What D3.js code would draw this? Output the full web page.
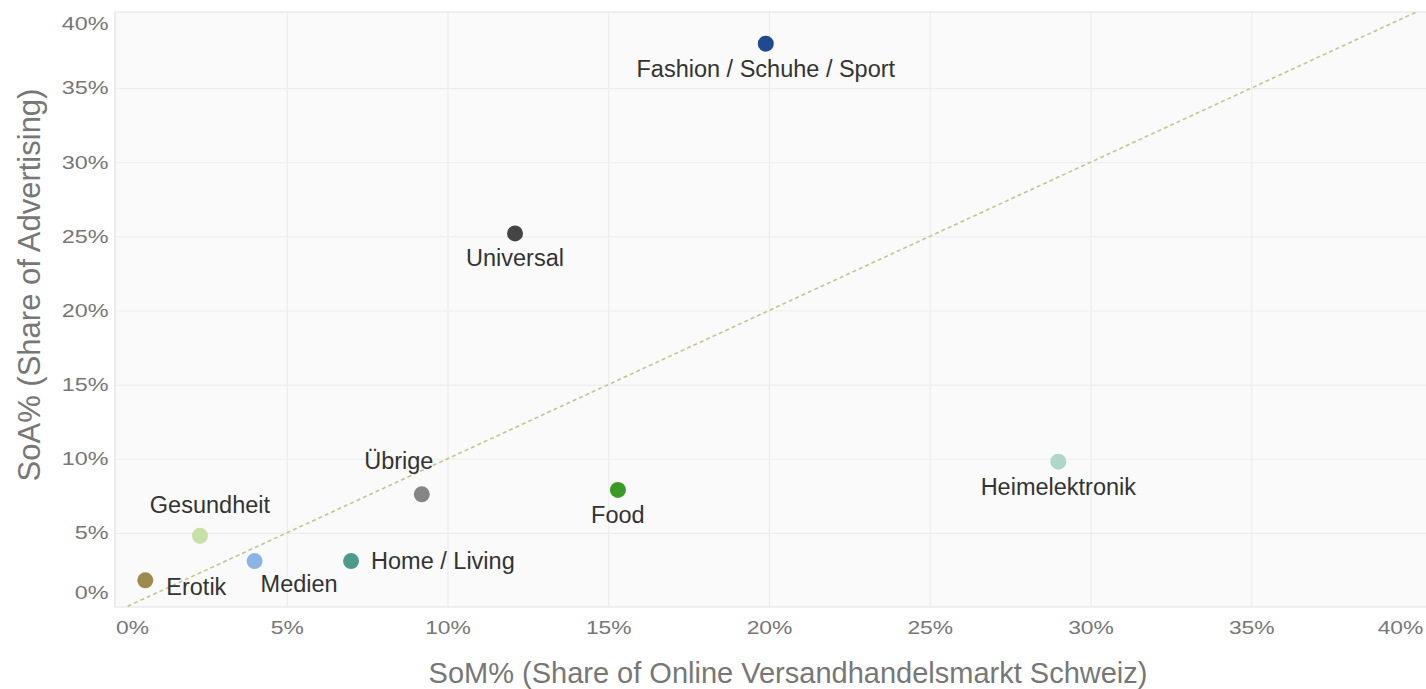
<!DOCTYPE html>
<html>
<head>
<meta charset="utf-8">
<script src="https://cdn.jsdelivr.net/npm/d3@7"></script>
<style>
    body { margin: 0; background: #fff; }
    text { font-family: "Liberation Sans", Arial, sans-serif; }
</style>
</head>
<body>
<div id="chart"></div>
<script>
const categories = ['Fashion / Schuhe / Sport', 'Universal', 'Übrige', 'Food', 'Heimelektronik',
    'Gesundheit', 'Medien', 'Home / Living', 'Erotik'];
const som = [19.9, 12.1, 9.2, 15.3, 29.0, 2.3, 4.0, 7.0, 0.6];
const soa = [38.0, 25.2, 7.6, 7.9, 9.8, 4.8, 3.1, 3.1, 1.8];
const colors = ['#1f4a8f', '#444444', '#858585', '#3a9a26', '#afd6cb',
    '#c8e0a6', '#8bb3e6', '#4f9a8f', '#9c8b4c'];
const ticks = [0, 5, 10, 15, 20, 25, 30, 35, 40];

// where each label sits next to its dot
const labelPlace = {
    'Fashion / Schuhe / Sport': 'below', 'Universal': 'below', 'Übrige': 'aboveLeft',
    'Food': 'below', 'Heimelektronik': 'below', 'Gesundheit': 'above',
    'Medien': 'belowRight', 'Home / Living': 'right', 'Erotik': 'rightLow'
};

const width = 1426;
const height = 689;
const plot = { left: 115, top: 12, right: 1426, bottom: 607 };

const svg = d3.select('#chart').append('svg')
    .attr('width', width)
    .attr('height', height);

const x = d3.scaleLinear().domain([0, 40]).range([126, 1412]);
const y = d3.scaleLinear().domain([0, 40]).range([607, 14]);

svg.append('rect')
    .attr('x', plot.left).attr('y', plot.top)
    .attr('width', plot.right - plot.left).attr('height', plot.bottom - plot.top)
    .attr('fill', '#fafafa');

svg.append('clipPath').attr('id', 'clip')
    .append('rect')
    .attr('x', plot.left).attr('y', plot.top)
    .attr('width', plot.right - plot.left).attr('height', plot.bottom - plot.top);

// grid
const gx = svg.append('g')
    .attr('transform', `translate(0,${plot.top})`)
    .call(d3.axisBottom(x).tickValues(ticks.slice(1, -1)).tickSize(plot.bottom - plot.top).tickFormat(''));
const gy = svg.append('g')
    .attr('transform', `translate(${plot.left},0)`)
    .call(d3.axisRight(y).tickValues(ticks.slice(1, -1)).tickSize(plot.right - plot.left).tickFormat(''));
[gx, gy].forEach(g => {
    g.select('.domain').remove();
    g.selectAll('line').attr('stroke', '#ededed').attr('stroke-width', 1.2);
});

// frame
svg.append('path')
    .attr('d', `M${plot.left},${plot.top}H${plot.right}M${plot.left},${plot.top}V${plot.bottom}H${plot.right}`)
    .attr('fill', 'none')
    .attr('stroke', '#e2e2e2')
    .attr('stroke-width', 1.2);

// tick labels (the picture's tick text is drawn wide)
const xAxis = svg.append('g')
    .attr('transform', `translate(0,${plot.bottom})`)
    .call(d3.axisBottom(x).tickValues(ticks).tickSize(0).tickPadding(14).tickFormat(d => d + '%'));
xAxis.select('.domain').remove();
xAxis.selectAll('text')
    .attr('font-size', '18px')
    .attr('fill', '#777')
    .attr('transform', d => `translate(${d === 0 ? 6 : d === 40 ? -12 : 0},0) scale(1.27,1)`);

const yAxis = svg.append('g')
    .attr('transform', `translate(${plot.left},0)`)
    .call(d3.axisLeft(y).tickValues(ticks).tickSize(0).tickPadding(5).tickFormat(d => d + '%'));
yAxis.select('.domain').remove();
yAxis.selectAll('text')
    .attr('font-size', '18px')
    .attr('fill', '#777')
    .attr('transform', 'scale(1.3,1)')
    .attr('dy', d => d === 0 ? '-0.5em' : d === 40 ? '0.85em' : '0.32em');

// axis titles
svg.append('text')
    .attr('x', 788)
    .attr('y', 683)
    .attr('text-anchor', 'middle')
    .attr('font-size', '29px')
    .attr('fill', '#777')
    .text('SoM% (Share of Online Versandhandelsmarkt Schweiz)');

svg.append('text')
    .attr('transform', `translate(40,285) rotate(-90)`)
    .attr('text-anchor', 'middle')
    .attr('font-size', '31px')
    .attr('fill', '#777')
    .text('SoA% (Share of Advertising)');

// y = x reference line
const lo = x.invert(plot.left);
const hi = x.invert(plot.right);
svg.append('line')
    .attr('clip-path', 'url(#clip)')
    .attr('x1', x(lo)).attr('y1', y(lo))
    .attr('x2', x(hi)).attr('y2', y(hi))
    .attr('stroke', '#c2c58e')
    .attr('stroke-width', 1.6)
    .attr('stroke-dasharray', '4,3');

const data = categories.map((c, i) => ({ name: c, som: som[i], soa: soa[i], color: colors[i] }));

svg.append('g').selectAll('circle')
    .data(data)
    .enter().append('circle')
    .attr('cx', d => x(d.som))
    .attr('cy', d => y(d.soa))
    .attr('r', 8)
    .attr('fill', d => d.color);

const place = {
    below: { dx: 0, dy: 33, anchor: 'middle' },
    above: { dx: 10, dy: -23, anchor: 'middle' },
    aboveLeft: { dx: -23, dy: -25, anchor: 'middle' },
    belowRight: { dx: 6, dy: 31, anchor: 'start' },
    right: { dx: 20, dy: 8, anchor: 'start' },
    rightLow: { dx: 21, dy: 15, anchor: 'start' }
};

svg.append('g').selectAll('text')
    .data(data)
    .enter().append('text')
    .attr('x', d => x(d.som) + place[labelPlace[d.name]].dx)
    .attr('y', d => y(d.soa) + place[labelPlace[d.name]].dy)
    .attr('text-anchor', d => place[labelPlace[d.name]].anchor)
    .attr('font-size', '23.5px')
    .attr('fill', '#333')
    .text(d => d.name);
</script>
</body>
</html>
